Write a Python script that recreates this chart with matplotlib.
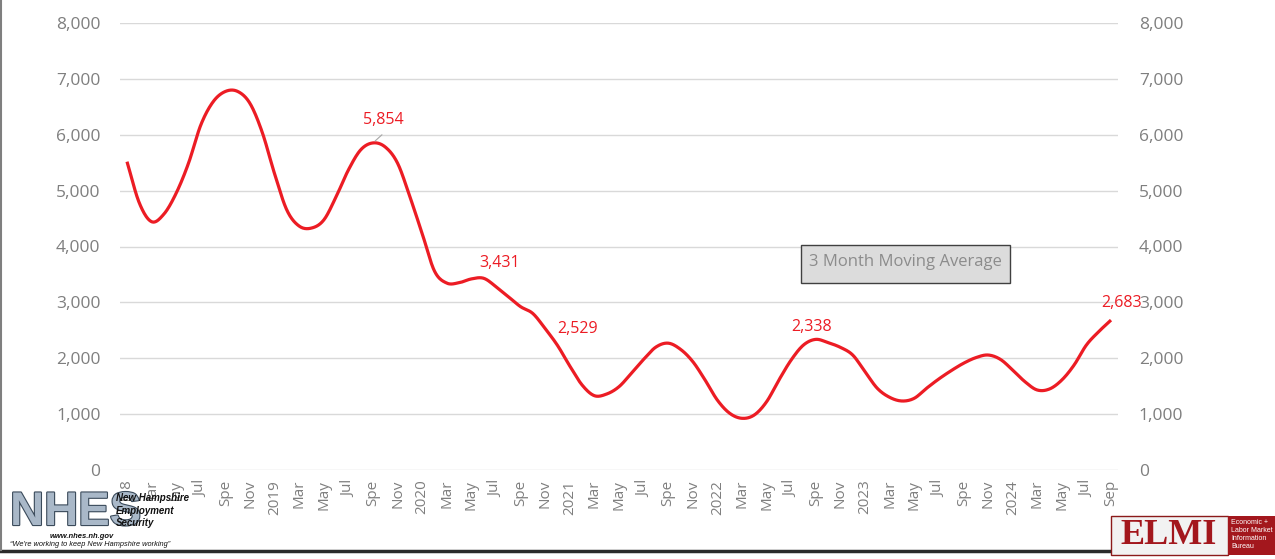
import numpy as np
import matplotlib
matplotlib.use("Agg")
import matplotlib.pyplot as plt
import matplotlib.patheffects as pe
from matplotlib.patches import Rectangle

# ---------------- data ----------------
tick_labels = ["2018", "Mar", "May", "Jul", "Spe", "Nov",
               "2019", "Mar", "May", "Jul", "Spe", "Nov",
               "2020", "Mar", "May", "Jul", "Spe", "Nov",
               "2021", "Mar", "May", "Jul", "Spe", "Nov",
               "2022", "Mar", "May", "Jul", "Spe", "Nov",
               "2023", "Mar", "May", "Jul", "Spe", "Nov",
               "2024", "Mar", "May", "Jul", "Sep"]

values_2018 = [5518, 4780, 4444, 4580, 4955, 5490, 6175, 6590, 6775, 6775, 6560, 6040]
values_2019 = [5300, 4650, 4365, 4330, 4475, 4890, 5370, 5730, 5854, 5780, 5490, 4890]
values_2020 = [4230, 3560, 3345, 3352, 3420, 3431, 3281, 3102, 2923, 2800, 2529, 2230]
values_2021 = [1861, 1521, 1330, 1360, 1491, 1730, 1980, 2200, 2270, 2160, 1940, 1610]
values_2022 = [1250, 1015, 925, 985, 1222, 1610, 1970, 2237, 2338, 2279, 2195, 2058]
values_2023 = [1760, 1462, 1301, 1235, 1283, 1462, 1629, 1777, 1909, 2010, 2058, 1981]
values_2024 = [1790, 1581, 1432, 1450, 1610, 1879, 2237, 2476, 2683]

values = np.array(values_2018 + values_2019 + values_2020 + values_2021
                  + values_2022 + values_2023 + values_2024, dtype=float)

label_idx = [20, 29, 34, 56, 80]            # points that carry a data label
label_offsets = [(10, 23), (16, 15), (32, 0), (-4, 12), (11, 17)]  # pixels

box_text = "3 Month Moving Average"

# ---------------- smoothing (Excel-like Catmull-Rom) ----------------
def smooth(y, n=20):
    N = len(y)
    xs, ys = [], []
    for i in range(N - 1):
        p0 = y[i - 1] if i > 0 else y[i]
        p1 = y[i]
        p2 = y[i + 1]
        p3 = y[i + 2] if i + 2 < N else y[i + 1]
        m1 = (p2 - p0) / 2.0 if i > 0 else (p2 - p1)
        m2 = (p3 - p1) / 2.0 if i + 2 < N else (p2 - p1)
        t = np.linspace(0, 1, n, endpoint=False)
        h00 = 2 * t**3 - 3 * t**2 + 1
        h10 = t**3 - 2 * t**2 + t
        h01 = -2 * t**3 + 3 * t**2
        h11 = t**3 - t**2
        xs.append(i + t)
        ys.append(h00 * p1 + h10 * m1 + h01 * p2 + h11 * m2)
    xs.append(np.array([N - 1.0]))
    ys.append(np.array([y[-1]]))
    return np.concatenate(xs), np.concatenate(ys)

x = np.arange(len(values))
sx, sy = smooth(values)

# ---------------- figure ----------------
W, H = 1275, 559
fig = plt.figure(figsize=(W / 100, H / 100), dpi=100)
fig.patch.set_facecolor("white")

left, right, top, bottom = 120, 1118, 23, 470
ax = fig.add_axes([left / W, 1 - bottom / H, (right - left) / W, (bottom - top) / H])
ax.set_facecolor("white")

RED = "#ec1c24"
GREY = "#7f7f7f"
FONT = "Open Sans"

ax.plot(sx, sy, color=RED, lw=2.3, solid_capstyle="butt", zorder=3)

ax.set_ylim(0, 8000)
span = len(values) - 1
margin = 7 / ((1111 - 127) / span)
ax.set_xlim(-margin, span + margin)

fmt = matplotlib.ticker.FuncFormatter(lambda v, p: f"{int(v):,}")
ax.set_yticks(np.arange(0, 8001, 1000))
ax.yaxis.set_major_formatter(fmt)
ax.grid(axis="y", color="#d9d9d9", lw=1.0, zorder=0)
ax.set_axisbelow(True)
for s in ax.spines.values():
    s.set_visible(False)

ax.set_xticks(np.arange(0, len(values), 2))
ax.set_xticklabels(tick_labels, rotation=90, fontsize=11, color=GREY, family=FONT)
ax.tick_params(axis="x", length=0, pad=7)
ax.tick_params(axis="y", length=0, pad=14, labelsize=12.5, labelcolor=GREY)
for t in ax.get_yticklabels():
    t.set_family(FONT)

ax2 = ax.twinx()
ax2.set_ylim(0, 8000)
ax2.set_yticks(np.arange(0, 8001, 1000))
ax2.yaxis.set_major_formatter(fmt)
ax2.tick_params(axis="y", length=0, pad=15, labelsize=12.5, labelcolor=GREY)
for t in ax2.get_yticklabels():
    t.set_family(FONT)
for s in ax2.spines.values():
    s.set_visible(False)

# data labels
for i, (dx, dy) in zip(label_idx, label_offsets):
    ax.annotate(f"{int(values[i]):,}", xy=(x[i], values[i]), xytext=(dx, dy),
                textcoords="offset pixels", ha="center", va="center",
                color=RED, fontsize=11.5, family=FONT, zorder=5)
# leader line for the first label
ax.annotate("", xy=(x[label_idx[0]], values[label_idx[0]]), xytext=(11, 10),
            textcoords="offset pixels",
            arrowprops=dict(arrowstyle="-", color="#a6a6a6", lw=0.8))

# moving-average box
fig.patches.append(Rectangle((801 / W, 1 - 283 / H), 209 / W, 38 / H, transform=fig.transFigure,
                             facecolor="#dcdcdc", edgecolor="#404040", lw=1.0, zorder=6))
fig.text(905.5 / W, 1 - 262 / H, box_text, ha="center", va="center", fontsize=12,
         color="#8c8c8c", family=FONT, zorder=7)

# ---------------- logos (approximations) ----------------
# NHES logo block
fig.patches.append(Rectangle((4 / W, 1 - 549 / H), 184 / W, 48 / H, transform=fig.transFigure,
                             facecolor="white", edgecolor="none", zorder=10))
fig.patches.append(Rectangle((4 / W, 1 - 549 / H), 112 / W, 62 / H, transform=fig.transFigure,
                             facecolor="white", edgecolor="none", zorder=10))
fig.text(10 / W, 1 - 513 / H, "NHES", fontsize=34, fontweight="bold",
         family=["Liberation Sans Narrow", "Liberation Sans"],
         color="#a9b8c8", ha="left", va="center", zorder=11,
         path_effects=[pe.withStroke(linewidth=1.6, foreground="#3a4a5a")])
for k, line in enumerate(["New Hampshire", "Employment", "Security"]):
    fig.text(116 / W, 1 - (498 + 12.5 * k) / H, line, fontsize=7, fontweight="bold",
             style="italic", family="Liberation Sans", color="#111111",
             ha="left", va="center", zorder=11)
fig.text(50 / W, 1 - 536 / H, "www.nhes.nh.gov", fontsize=5.5, fontweight="bold",
         style="italic", family="Liberation Sans", color="#111111", ha="left", va="center", zorder=11)
fig.text(10 / W, 1 - 545 / H, "\u201cWe're working to keep New Hampshire working\u201d", fontsize=5.3,
         style="italic", family="Liberation Sans", color="#111111", ha="left", va="center", zorder=11)

# ELMI logo block
fig.patches.append(Rectangle((1111 / W, 1 - 555 / H), 117 / W, 39 / H, transform=fig.transFigure,
                             facecolor="#f2f2f2", edgecolor="#8b1a1a", lw=1.0, zorder=10))
fig.text(1169 / W, 1 - 536 / H, "ELMI", fontsize=26, fontweight="bold", family="Liberation Serif",
         color="#a3171d", ha="center", va="center", zorder=11)
fig.patches.append(Rectangle((1228 / W, 1 - 555 / H), 47 / W, 39 / H, transform=fig.transFigure,
                             facecolor="#a3171d", edgecolor="none", zorder=10))
for k, line in enumerate(["Economic +", "Labor Market", "Information", "Bureau"]):
    fig.text(1231 / W, 1 - (522 + 8 * k) / H, line, fontsize=5, family="Liberation Sans",
             color="white", ha="left", va="center", zorder=11)

# frame lines
fig.add_artist(plt.Line2D([0, 1], [1 - 550.5 / H] * 2, transform=fig.transFigure,
                          color="#2b2b2b", lw=2.5, zorder=9))
fig.add_artist(plt.Line2D([0.8 / W] * 2, [1 - 550 / H, 1], transform=fig.transFigure,
                          color="#7f7f7f", lw=1.5, zorder=9))

fig.savefig("out.png", dpi=100, facecolor="white")
